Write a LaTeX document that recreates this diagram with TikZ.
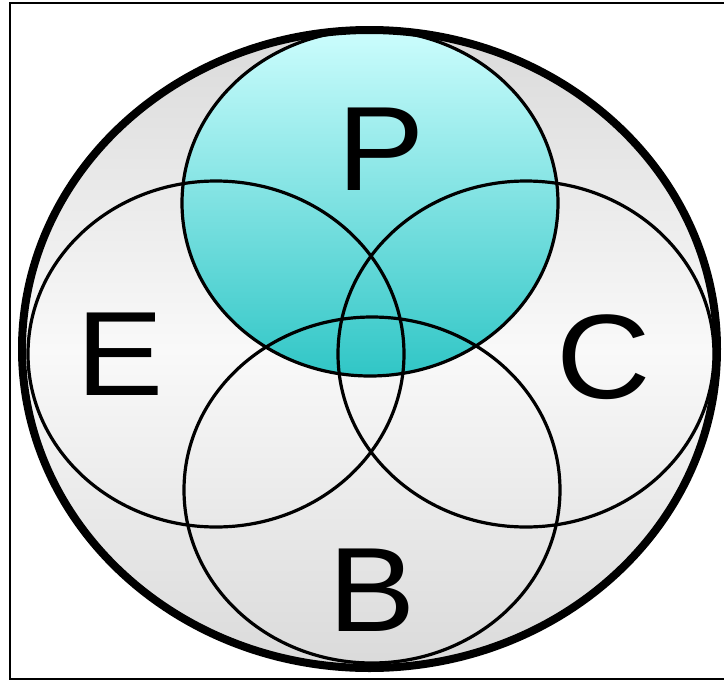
\documentclass[tikz,border=0pt]{standalone}
\usepackage{fontspec}
\setmainfont{Liberation Sans}
\usetikzlibrary{shapes.geometric}
\definecolor{gedge}{RGB}{218,218,218}
\definecolor{gmid}{RGB}{249,249,249}
\definecolor{ptop}{RGB}{204,253,253}
\definecolor{pbot}{RGB}{48,198,198}
\begin{document}
\begin{tikzpicture}[x=1pt,y=-1pt,
  venn/.style={ellipse, draw=black, line width=3.2pt, minimum width=376pt, minimum height=346pt, inner sep=0pt},
  outerell/.style={ellipse, minimum width=695pt, minimum height=638pt, inner sep=0pt},
  lbl/.style={inner sep=0pt, font=\fontsize{120}{120}\selectfont}]
\useasboundingbox (0,0) rectangle (724,681);
\clip (0,0) rectangle (724,681);
\draw[line width=2.4pt] (10,3) rectangle (740,679);
% universe fill
\node[outerell, top color=gedge, bottom color=gedge, middle color=gmid] (U) at (369.5,349) {};
% sets
\node[venn, top color=ptop, bottom color=pbot] (P) at (370,203) {};
\node[venn] (E) at (216,354) {};
\node[venn] (C) at (526,354) {};
\node[venn] (B) at (372,490) {};
% universe outline
\node[outerell, draw=black, line width=8pt] (Uo) at (U.center) {};
% labels
\node[lbl] (lP) at (381,149) {\scalebox{1.09}[1]{P}};
\node[lbl] (lE) at (120,354) {\scalebox{1.09}[1]{E}};
\node[lbl] (lC) at (604,357) {\scalebox{1.09}[1]{C}};
\node[lbl] (lB) at (372,590) {\scalebox{1.09}[1]{B}};
\end{tikzpicture}
\end{document}
